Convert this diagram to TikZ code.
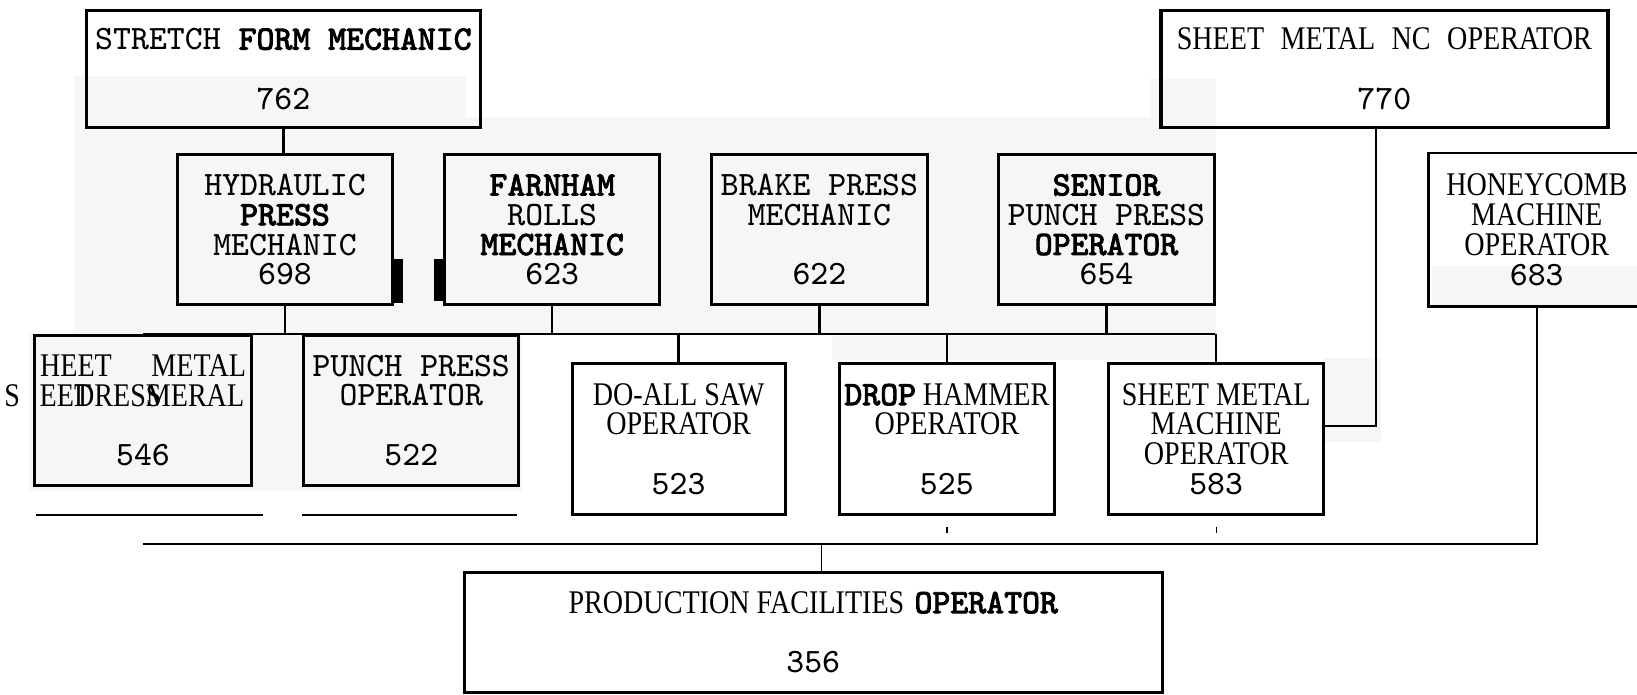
\documentclass[tikz,border=0pt]{standalone}
\usepackage{fontspec}
\setmainfont{Liberation Serif}
\setmonofont{Latin Modern Mono}[BoldFont={Latin Modern Mono}, BoldFeatures={FakeBold=2.5}]
\newfontfamily\narrowserif[FakeStretch=0.85]{Liberation Serif}
\usetikzlibrary{positioning}
\definecolor{scangray}{RGB}{246,246,246}
\newcommand{\tms}[1]{{\narrowserif\fontsize{9pt}{8.1pt}\selectfont #1}}
\tikzset{
  jobbox/.style={draw, line width=0.8pt, inner sep=0pt, align=center, minimum width=2.06cm, minimum height=1.44cm, font={\fontsize{9.3pt}{8.1pt}\selectfont\ttfamily}},
  headbox/.style={jobbox, minimum height=1.12cm},
  orgline/.style={line width=0.65pt},
  thinline/.style={line width=0.35pt}
}

\begin{document}
\begin{tikzpicture}[x=0.01cm, y=-0.01cm]
    \useasboundingbox (0,0) rectangle (1568,665);
    % scan shading
    \fill[scangray] (71,73) rectangle (446,117);
    \fill[scangray] (71,112) rectangle (1165,320);
    \fill[scangray] (1102,76) rectangle (1165,320);
    \fill[scangray] (28,320) rectangle (500,470);
    \fill[scangray] (797,322) rectangle (1165,345);
    \fill[scangray] (1268,343) rectangle (1323,423);
    \fill[scangray] (1372,255) rectangle (1568,294);

    % top row
    \node[headbox, minimum width=3.77cm, line width=1pt] (stretch) at (271.5,66) {STRETCH \textbf{FORM MECHANIC}\\~\\762};
    \node[headbox, minimum width=4.28cm, line width=1pt] (nc) at (1326,66) {\tms{SHEET\hspace{0.5em}METAL\hspace{0.5em}NC\hspace{0.5em}OPERATOR}\\~\\770};

    % mechanics row
    \node[jobbox] (hydraulic) at (273,220) {HYDRAULIC\\\textbf{PRESS}\\MECHANIC\\698};
    \node[jobbox, right=0.47cm of hydraulic] (farnham) {\textbf{FARNHAM}\\ROLLS\\\textbf{MECHANIC}\\623};
    \node[jobbox, right=0.47cm of farnham] (brake) {BRAKE PRESS\\MECHANIC\\~\\622};
    \node[jobbox, right=0.66cm of brake] (senior) {\textbf{SENIOR}\\PUNCH PRESS\\\textbf{OPERATOR}\\654};
    \node[jobbox, draw=none, minimum width=2.04cm] (honeycomb) at (1472,220) {\tms{HONEYCOMB}\\\tms{MACHINE}\\\tms{OPERATOR}\\683};
    \draw[line width=0.8pt] (honeycomb.north east) -- (honeycomb.north west) -- (honeycomb.south west) -- (honeycomb.south east);
    \fill (377,248) rectangle (386,290);
    \fill (416,248) rectangle (424,288);

    % operators row
    \node[jobbox, minimum width=2.08cm] (dresser) at (137,393) {\tms{HEET\hspace{1.2em}METAL}\\\hspace*{-1.1em}\tms{S\hspace{0.6em}EE\rlap{T}DRES\rlap{S}MERAL}\\~\\546};
    \node[jobbox, right=0.47cm of dresser] (punch) {PUNCH PRESS\\OPERATOR\\~\\522};
    \node[jobbox, minimum width=2.04cm, minimum height=1.45cm] (doall) at (650,420.5) {\tms{DO-ALL SAW}\\\tms{OPERATOR}\\~\\523};
    \node[jobbox, minimum height=1.45cm, right=0.49cm of doall] (drop) {\textbf{DROP}\hspace{0.2em}\tms{HAMMER}\\\tms{OPERATOR}\\~\\525};
    \node[jobbox, minimum height=1.45cm, right=0.49cm of drop] (machine) {\tms{SHEET METAL}\\\tms{MACHINE}\\\tms{OPERATOR}\\583};

    % bottom
    \node[jobbox, minimum width=6.68cm, minimum height=1.15cm] (production) at (779,605.5) {\tms{PRODUCTION FACILITIES}\hspace{0.3em}\textbf{OPERATOR}\\~\\356};

    % connectors
    \coordinate (busL) at (137,320);
    \coordinate (busR) at (1164,320);
    \draw[orgline] (stretch.south) -- (stretch.south |- hydraulic.north);
    \draw[orgline] (busL) -- (busR);
    \foreach \n in {hydraulic, farnham, brake, senior}
        \draw[orgline] (\n.south) -- (\n.south |- busL);
    \foreach \n in {dresser, punch, doall, drop, machine}
        \draw[orgline] (\n.north |- busL) -- (\n.north);

    \coordinate (ncjog) at (1318,408);
    \draw[orgline] (nc.south -| ncjog) -- (ncjog) -- (ncjog -| machine.east);

    \coordinate (lowL) at (137,521);
    \draw[orgline] (honeycomb.south) -- (honeycomb.south |- lowL) -- (lowL);
    \coordinate (prodtap) at (787,521);
    \draw[thinline] (prodtap) -- (prodtap |- production.north);

    \draw[orgline] ([yshift=-0.27cm, xshift=0.03cm]dresser.south west) -- ([yshift=-0.27cm, xshift=0.09cm]dresser.south east);
    \draw[orgline] ([yshift=-0.27cm]punch.south west) -- ([yshift=-0.27cm, xshift=-0.03cm]punch.south east);
    \draw[thinline] ([yshift=-0.1cm]drop.south) -- ([yshift=-0.16cm]drop.south);
    \draw[thinline] ([yshift=-0.1cm]machine.south) -- ([yshift=-0.16cm]machine.south);
\end{tikzpicture}
\end{document}
